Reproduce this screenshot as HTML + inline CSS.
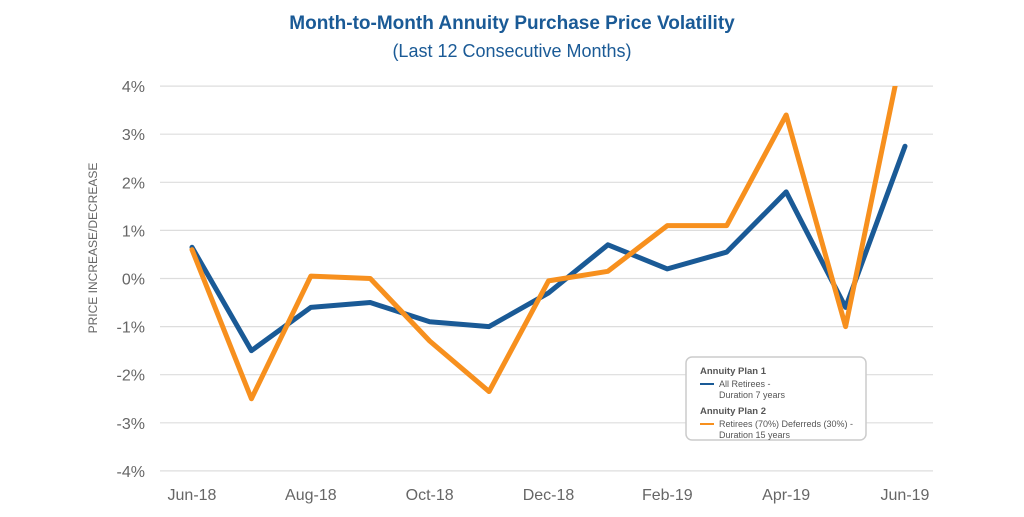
<!DOCTYPE html>
<html><head><meta charset="utf-8"><style>
body{margin:0;background:#fff;width:1024px;height:512px;overflow:hidden;font-family:"Liberation Sans",sans-serif}
</style></head><body>
<svg width="1024" height="512">
<text x="512" y="29" text-anchor="middle" font-size="19" font-weight="bold" fill="#1a5a96">Month-to-Month Annuity Purchase Price Volatility</text>
<text x="512" y="57" text-anchor="middle" font-size="18" fill="#1a5a96">(Last 12 Consecutive Months)</text>
<text transform="translate(97,248) rotate(-90)" text-anchor="middle" font-size="12" fill="#666">PRICE INCREASE/DECREASE</text>
<g id="grid"></g><g id="ylab"></g><g id="xlab"></g>
<defs><clipPath id="cp"><rect x="150" y="86" width="800" height="400"/></clipPath></defs>
<g id="lines" clip-path="url(#cp)"></g>
<g>
<rect x="686" y="357" width="180" height="83" rx="6" fill="#fff" stroke="#ccc" stroke-width="1.5"/>
<text x="700" y="374" font-size="9.5" font-weight="bold" fill="#555">Annuity Plan 1</text>
<line x1="700" y1="384" x2="714" y2="384" stroke="#1a5a96" stroke-width="2"/>
<text x="719" y="387" font-size="9" fill="#555">All Retirees -</text>
<text x="719" y="398" font-size="9" fill="#555">Duration 7 years</text>
<text x="700" y="414" font-size="9.5" font-weight="bold" fill="#555">Annuity Plan 2</text>
<line x1="700" y1="424" x2="714" y2="424" stroke="#f7901e" stroke-width="2"/>
<text x="719" y="427" font-size="9" fill="#555">Retirees (70%) Deferreds (30%) -</text>
<text x="719" y="438" font-size="9" fill="#555">Duration 15 years</text>
</g>
</svg>
<script>
const months=["Jun-18","Jul-18","Aug-18","Sep-18","Oct-18","Nov-18","Dec-18","Jan-19","Feb-19","Mar-19","Apr-19","May-19","Jun-19"];
const plan1=[0.65,-1.5,-0.6,-0.5,-0.9,-1.0,-0.3,0.7,0.2,0.55,1.8,-0.6,2.75];
const plan2=[0.6,-2.5,0.05,0.0,-1.3,-2.35,-0.05,0.15,1.1,1.1,3.4,-1.0,5.0];
const yTicks=[4,3,2,1,0,-1,-2,-3,-4];
const xLabelIdx=[0,2,4,6,8,10,12];
const NS="http://www.w3.org/2000/svg";
const x=i=>192+i*(905-192)/12;
const y=v=>278.5-v*48.1;
function mk(t,a,p){const e=document.createElementNS(NS,t);for(const k in a)e.setAttribute(k,a[k]);document.getElementById(p).appendChild(e);return e;}
yTicks.forEach(v=>{
 const l=mk("line",{x1:160,x2:933,y1:y(v),y2:y(v),stroke:"#ddd","stroke-width":1.2},"grid");
 
 
 const t=mk("text",{x:145,y:y(v)+6,"text-anchor":"end","font-size":16,fill:"#666"},"ylab");
 t.textContent=v+"%";
 
 
});
xLabelIdx.forEach(i=>{
 const t=mk("text",{x:x(i),y:500,"text-anchor":"middle","font-size":16,fill:"#666"},"xlab");
 t.textContent=months[i];
 
 
});
[[plan1,"#1a5a96","plan1-line"],[plan2,"#f7901e","plan2-line"]].forEach(([d,c,n])=>{
 const p=mk("polyline",{points:d.map((v,i)=>x(i)+","+y(v)).join(" "),fill:"none",stroke:c,"stroke-width":5,"stroke-linejoin":"round","stroke-linecap":"round"},"lines");
 
 
});
</script>
</body></html>
